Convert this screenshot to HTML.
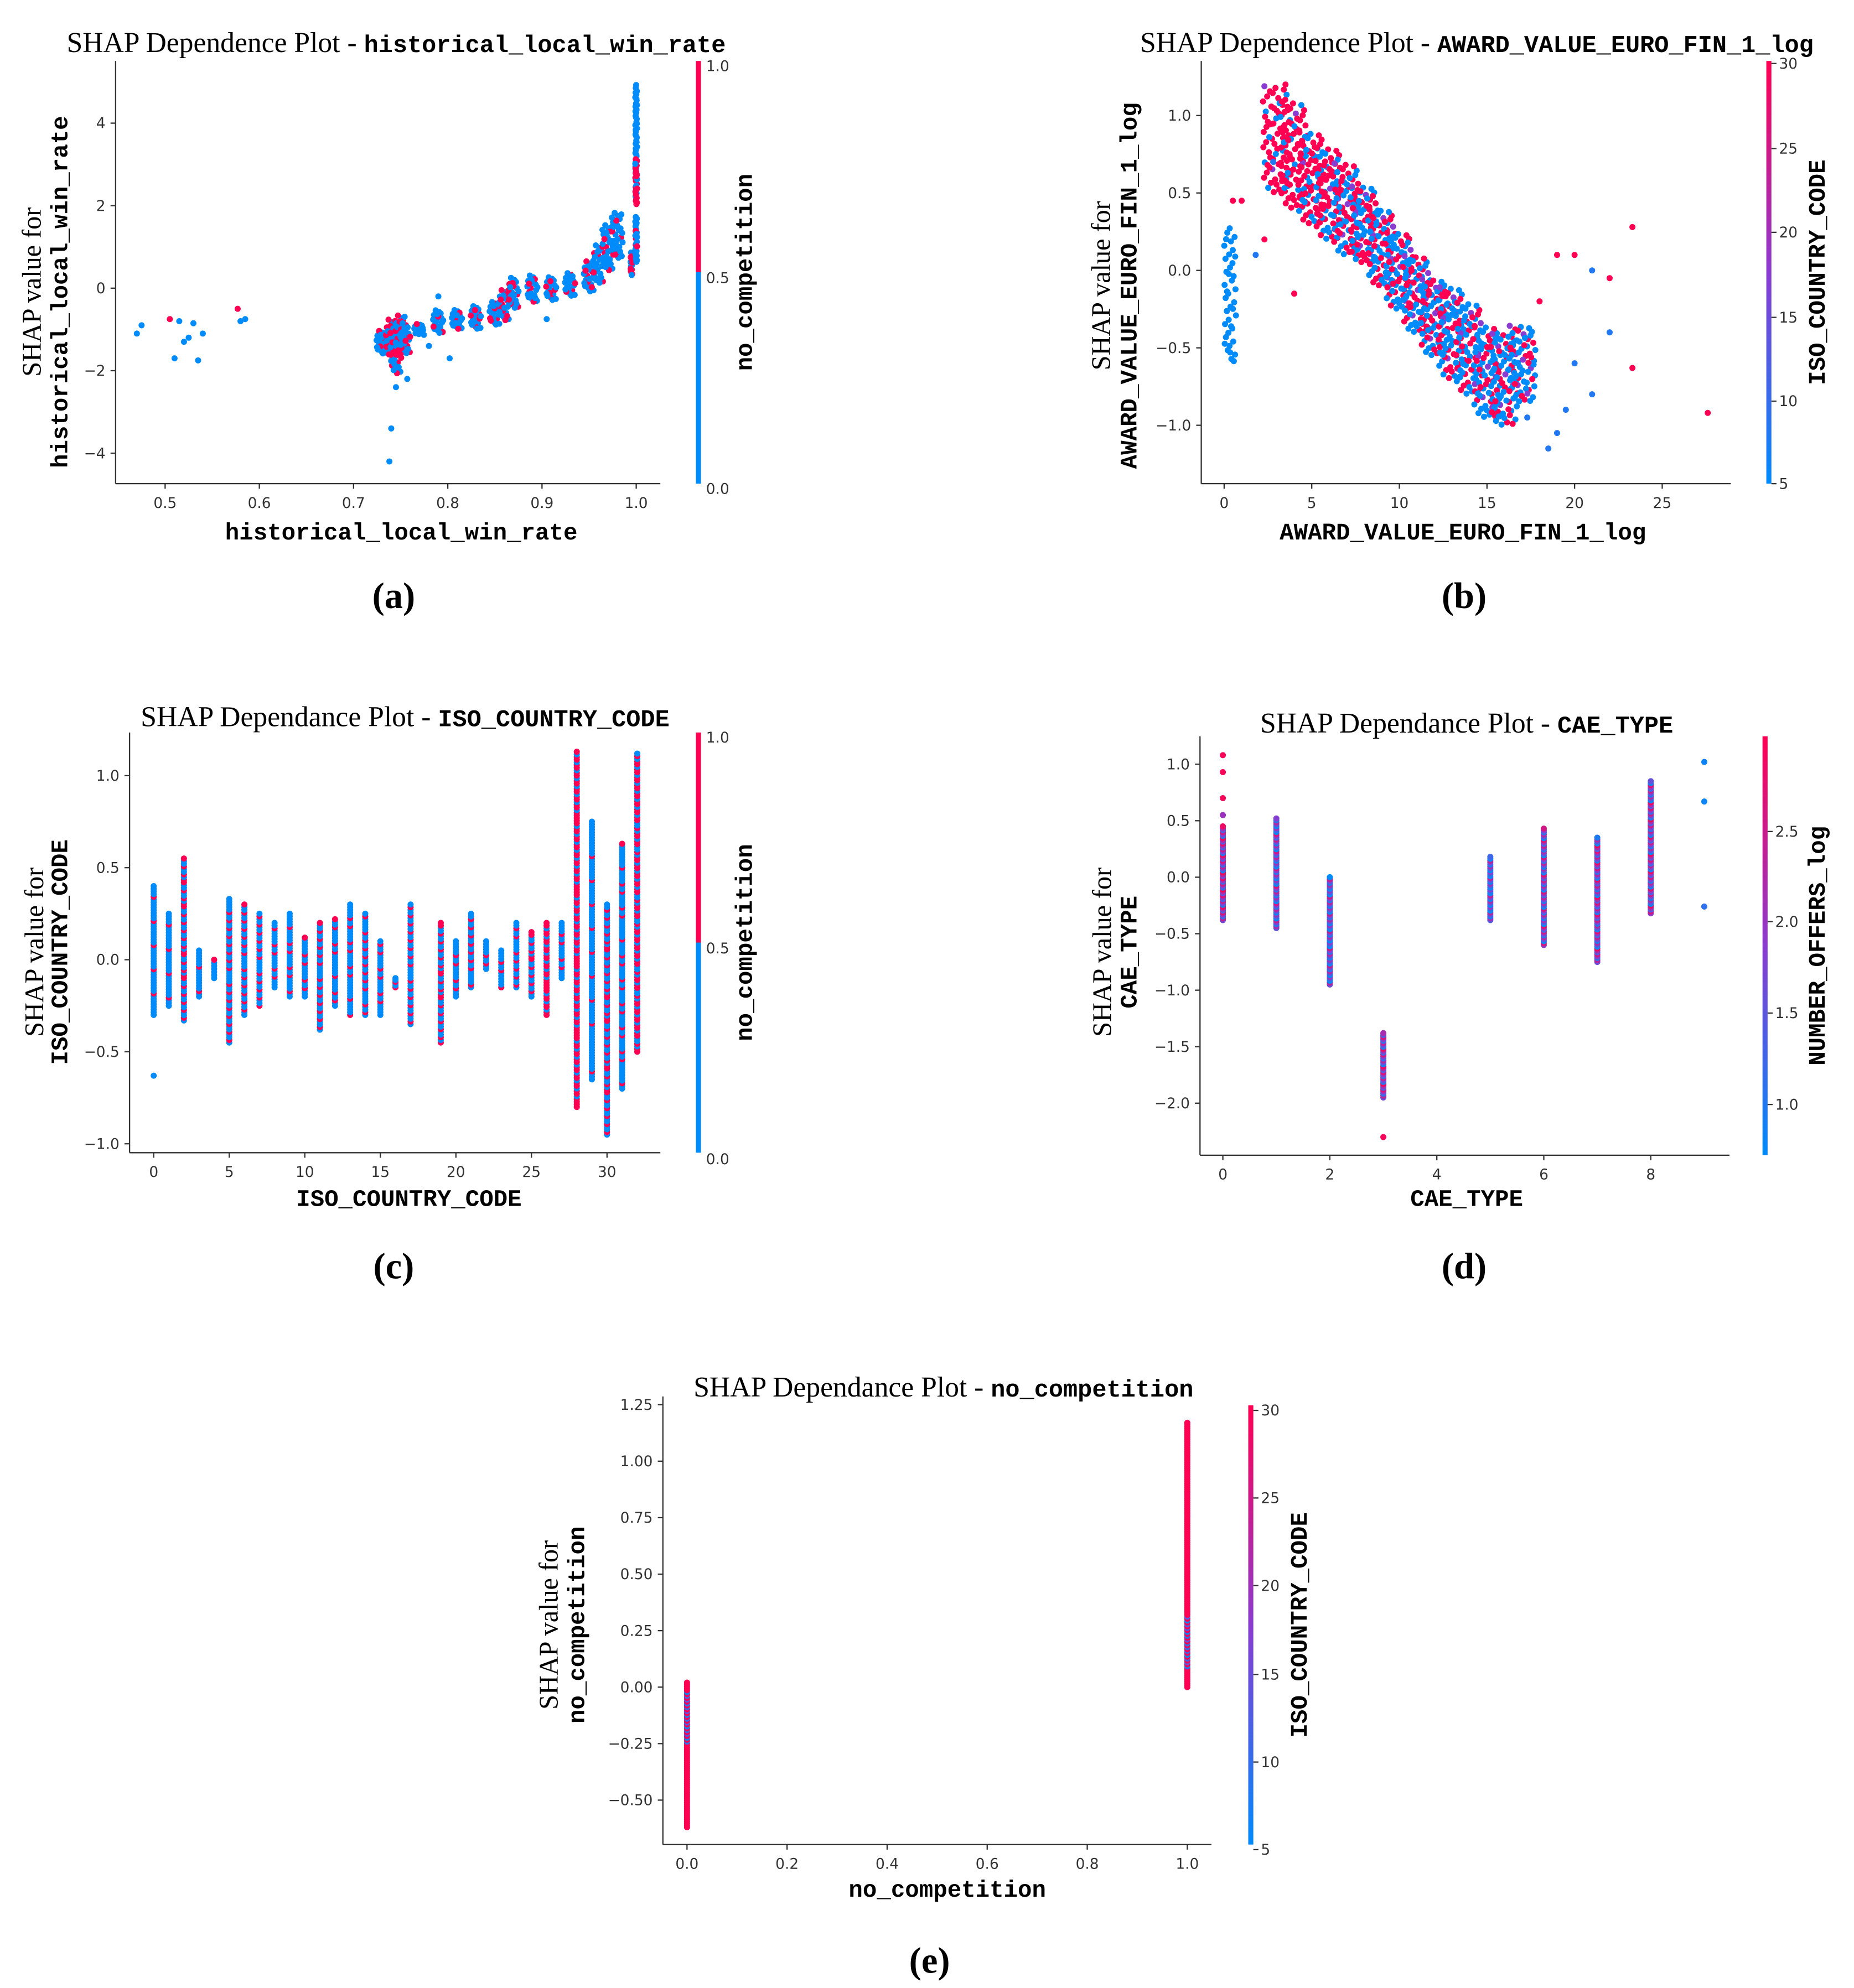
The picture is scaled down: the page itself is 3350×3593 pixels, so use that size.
<!DOCTYPE html>
<html><head><meta charset="utf-8">
<style>
html,body{margin:0;padding:0;background:#fff;}
svg{display:block;}
.tk{font-family:"DejaVu Sans",sans-serif;font-size:11.5px;fill:#333;}
.ttl{font-family:"Liberation Serif",serif;font-size:22.5px;fill:#000;}
.mono{font-family:"Liberation Mono",monospace;font-weight:bold;}
.axl{font-family:"Liberation Mono",monospace;font-weight:bold;font-size:18.5px;fill:#000;}
.ser{font-family:"Liberation Serif",serif;font-size:21px;fill:#000;}
.cap{font-family:"Liberation Serif",serif;font-size:29px;font-weight:bold;fill:#000;}
</style></head>
<body>
<svg id="fig" width="3350" height="3593" viewBox="0 0 1460 1566" xmlns="http://www.w3.org/2000/svg">
<defs>
<linearGradient id="cmapG" x1="0" y1="1" x2="0" y2="0">
<stop offset="0" stop-color="#008bfb"/><stop offset="0.5" stop-color="#8a3cd0"/><stop offset="1" stop-color="#ff0052"/>
</linearGradient>
<linearGradient id="binG" x1="0" y1="1" x2="0" y2="0">
<stop offset="0.5" stop-color="#008bfb"/><stop offset="0.5" stop-color="#ff0052"/>
</linearGradient>
</defs>
</svg>
<script>
// ===== Data =====
// (a) historical_local_win_rate
const aSingleX=[0.47,0.475,0.505,0.51,0.515,0.52,0.525,0.53,0.535,0.54,0.577,0.58,0.585,0.74,0.738,0.745,0.757,0.79,0.78,0.802,0.905];
const aSingleY=[-1.1,-0.9,-0.75,-1.7,-0.8,-1.3,-1.2,-0.85,-1.75,-1.1,-0.5,-0.8,-0.75,-3.4,-4.2,-2.4,-2.2,-0.2,-1.4,-1.7,-0.75];
const aSingleC=[0,0,1,0,0,0,0,0,0,0,1,0,0,0,0,0,0,0,0,0,0];
const aBandX=[0.73,0.74,0.745,0.75,0.755,0.77,0.79,0.81,0.83,0.85,0.86,0.87,0.89,0.91,0.93,0.95,0.96,0.97,0.98,0.995,1.0,1.0,1.0];
const aBandY=[-1.3,-1.2,-1.5,-1.1,-1.2,-1.0,-0.8,-0.75,-0.7,-0.6,-0.4,-0.1,0.0,0.0,0.1,0.3,0.6,1.0,1.3,0.6,3.8,2.6,1.2];
const aBandS=[0.3,0.5,0.6,0.5,0.4,0.15,0.3,0.25,0.3,0.3,0.4,0.4,0.35,0.3,0.3,0.4,0.5,0.6,0.6,0.3,1.2,0.6,0.6];
const aBandR=[0.2,0.6,0.4,0.5,0.3,0.1,0.1,0.2,0.3,0.3,0.4,0.4,0.2,0.25,0.2,0.3,0.2,0.2,0.2,0.5,0,0.8,0.1];
// (b) AWARD_VALUE_EURO_FIN_1_log
const bBandX=[0.35,3,4,5,6,7,8,9,10,11,12,13,14,15,16,17];
const bBandY=[-0.15,0.85,0.75,0.6,0.5,0.4,0.3,0.15,0.0,-0.15,-0.3,-0.4,-0.5,-0.65,-0.7,-0.6];
const bBandS=[0.45,0.35,0.35,0.3,0.3,0.3,0.25,0.25,0.25,0.25,0.25,0.3,0.3,0.3,0.3,0.25];
const bBandR=[0,0.8,0.8,0.7,0.6,0.5,0.5,0.4,0.4,0.4,0.4,0.4,0.35,0.3,0.3,0.3];
const bSingleX=[18,19,20,21,22,23.3,23.3,27.6,20,19.5,21,22,18.5,2.3,1.8,1,0.5,2.8,3.5,4,19,17.3];
const bSingleY=[-0.2,0.1,0.1,0.0,-0.05,0.28,-0.63,-0.92,-0.6,-0.9,-0.8,-0.4,-1.15,0.2,0.1,0.45,0.45,0.7,1.2,-0.15,-1.05,-0.95];
const bSingleC=[30,30,30,8,30,30,30,30,8,8,8,8,8,30,8,30,30,8,30,30,8,8];
// (c) ISO_COUNTRY_CODE
const cCats=[0,1,2,3,4,5,6,7,8,9,10,11,12,13,14,15,16,17,19,20,21,22,23,24,25,26,27,28,29,30,31,32];
const cMin=[-0.3,-0.25,-0.33,-0.2,-0.1,-0.45,-0.3,-0.25,-0.15,-0.2,-0.2,-0.38,-0.25,-0.3,-0.3,-0.3,-0.15,-0.35,-0.45,-0.2,-0.15,-0.05,-0.15,-0.15,-0.2,-0.3,-0.1,-0.8,-0.65,-0.95,-0.7,-0.5];
const cMax=[0.4,0.25,0.55,0.05,0.0,0.33,0.3,0.25,0.2,0.25,0.12,0.2,0.22,0.3,0.25,0.1,-0.1,0.3,0.2,0.1,0.25,0.1,0.05,0.2,0.15,0.2,0.2,1.13,0.75,0.3,0.63,1.12];
const cRed=[0.1,0.1,0.4,0.1,0.1,0.3,0.3,0.3,0.2,0.2,0.2,0.3,0.2,0.2,0.3,0.2,0.2,0.3,0.4,0.2,0.3,0.2,0.2,0.3,0.4,0.7,0.2,0.7,0.1,0.4,0.2,0.6];
// (d) CAE_TYPE
const dCats=[0,1,2,3,5,6,7,8,9];
const dMin=[-0.38,-0.45,-0.95,-1.95,-0.38,-0.6,-0.75,-0.32,-0.26];
const dMax=[0.45,0.52,0.0,-1.38,0.18,0.43,0.35,0.85,-0.26];
const dColor=[2.0,1.6,1.5,1.9,1.4,1.7,1.8,1.8,0.8];
const dExtraX=[0,0,0,0,3,9,9];
const dExtraY=[1.08,0.93,0.7,0.55,-2.3,0.67,1.02];
const dExtraC=[2.9,2.9,2.9,2.0,2.9,0.8,0.8];
// (e) no_competition
const eCats=[0,1];
const eMin=[-0.62,0.0];
const eMax=[0.02,1.17];
const eBlueLo=[-0.25,0.08];
const eBlueHi=[-0.02,0.32];

// ===== Drawing =====
const NS="http://www.w3.org/2000/svg";
const svg=document.getElementById('fig');
function mk(tag,attrs,parent){const e=document.createElementNS(NS,tag);for(const k in attrs)e.setAttribute(k,attrs[k]);(parent||svg).appendChild(e);return e;}
function lin(v0,p0,v1,p1){return v=>p0+(v-v0)*(p1-p0)/(v1-v0);}
function mixC(t){t=Math.max(0,Math.min(1,t));const A=[0,139,251],M=[138,60,208],B=[255,0,82];let r;if(t<0.5){const u=t/0.5;r=A.map((a,i)=>a+(M[i]-a)*u);}else{const u=(t-0.5)/0.5;r=M.map((a,i)=>a+(B[i]-a)*u);}return 'rgb('+r.map(Math.round).join(',')+')';}
const BLUE='#008bfb',RED='#ff0052';
function frac(x){return x-Math.floor(x);}
function halton(i,b){let f=1,r=0;i=i+1;while(i>0){f/=b;r+=f*(i%b);i=Math.floor(i/b);}return r;}

function text(g,x,y,s,cls,extra){const t=mk('text',Object.assign({x:x,y:y,class:cls},extra||{}),g);t.textContent=s;return t;}

function axes(g,P){
  const l=mk('line',{x1:P.L,y1:P.T,x2:P.L,y2:P.B,stroke:'#333','stroke-width':1},g);
  
  
  const b=mk('line',{x1:P.L,y1:P.B,x2:P.R,y2:P.B,stroke:'#333','stroke-width':1},g);
  
  
  P.xt.forEach(v=>{const x=P.sx(v);mk('line',{x1:x,y1:P.B,x2:x,y2:P.B+4,stroke:'#333'},g);
    const t=text(g,x,P.B+19,P.xf(v),'tk',{'text-anchor':'middle'});
    
    });
  P.yt.forEach(v=>{const y=P.sy(v);mk('line',{x1:P.L-4,y1:y,x2:P.L,y2:y,stroke:'#333'},g);
    const t=text(g,P.L-8,y+4,P.yf(v),'tk',{'text-anchor':'end'});
    
    });
}
function dot(g,x,y,c){const d=mk('circle',{cx:x.toFixed(2),cy:y.toFixed(2),r:2.4,fill:c},g);
  
  return d;}
function cbar(g,x,top,bot,fill,ticks,lab,labX){
  const r=mk('rect',{x:x,y:top,width:4,height:bot-top,fill:fill},g);
  
  
  ticks.forEach(tk=>{if(tk[2])mk('line',{x1:x+4,y1:tk[1],x2:x+8,y2:tk[1],stroke:'#333'},g);
    const t=text(g,x+(tk[2]?10:8),tk[1]+4,tk[0],'tk');
    
    });
  const cy=(top+bot)/2;
  const t=text(g,labX,cy,lab,'axl',{'text-anchor':'middle',transform:'rotate(-90 '+labX+' '+cy+')'});
  
  
}
function titles(g,tx,ty,pre,feat,xlx,xly,ylx1,ylx2,yly,cap,capx,capy){
  const t=mk('text',{x:tx,y:ty,class:'ttl','text-anchor':'middle'},g);
  
  
  const s1=mk('tspan',{},t);s1.textContent=pre;
  const s2=mk('tspan',{class:'mono','font-size':'19'},t);s2.textContent=feat;
  const xl=text(g,xlx,xly,feat,'axl',{'text-anchor':'middle'});
  
  
  const y1=text(g,ylx1,yly,'SHAP value for','ser',{'text-anchor':'middle',transform:'rotate(-90 '+ylx1+' '+yly+')'});
  
  
  const y2=text(g,ylx2,yly,feat,'axl',{'text-anchor':'middle',transform:'rotate(-90 '+ylx2+' '+yly+')'});
  
  
  const c=text(g,capx,capy,cap,'cap',{'text-anchor':'middle'});
  
  
}
function panel(name){const g=mk('g',{});return g;}

// ---- Panel a ----
(function(){
  const g=panel('panel-a');
  const P={L:91,R:520,T:48,B:381,sx:lin(0.5,130,1.0,501),sy:lin(0,227,4,97),
    xt:[0.5,0.6,0.7,0.8,0.9,1.0],yt:[-4,-2,0,2,4],xf:v=>v.toFixed(1),yf:v=>v<0?'\u2212'+(-v):''+v};
  axes(g,P);
  for(let k=0;k<aBandX.length;k++){
    const n=Math.round(10+aBandS[k]*30);
    for(let i=0;i<n;i++){const y=aBandY[k]-aBandS[k]+2*aBandS[k]*halton(i,2);
      const x=aBandX[k]+(aBandX[k]>=0.995?0.002:0.012)*(halton(i,3)-0.5);
      dot(g,P.sx(x),P.sy(y),halton(i+k*7,5)<aBandR[k]?RED:BLUE);}
  }
  for(let i=0;i<aSingleX.length;i++)dot(g,P.sx(aSingleX[i]),P.sy(aSingleY[i]),aSingleC[i]?RED:BLUE);
  cbar(g,548,48,381,'url(#binG)',[['1.0',52,0],['0.5',219,0],['0.0',385,0]],'no_competition',592);
  titles(g,312,41,'SHAP Dependence Plot - ','historical_local_win_rate',316,425,32,53,230,'(a)',310,479);
})();

// ---- Panel b ----
(function(){
  const g=panel('panel-b');
  const P={L:946,R:1363,T:48,B:381,sx:lin(0,964,25,1309),sy:lin(0,213,1,91),
    xt:[0,5,10,15,20,25],yt:[-1,-0.5,0,0.5,1],xf:v=>''+v,yf:v=>(v<0?'\u2212':'')+Math.abs(v).toFixed(1)};
  axes(g,P);
  for(let k=0;k<bBandX.length;k++){
    const n=k===0?40:Math.round(55+bBandS[k]*40);
    const w=k===0?0.7:1.6;
    for(let i=0;i<n;i++){
      const y=bBandY[k]+bBandS[k]*(2*halton(i,2)-1);
      const x=bBandX[k]+w*(halton(i,3)-0.5);
      const red=k>0&&halton(i+k*11,5)<bBandR[k];
      dot(g,P.sx(Math.max(0,x)),P.sy(y),red?RED:(k>0&&halton(i,7)<0.12?mixC(0.5):BLUE));}
  }
  for(let i=0;i<bSingleX.length;i++)dot(g,P.sx(bSingleX[i]),P.sy(bSingleY[i]),mixC((bSingleC[i]-5)/25));
  cbar(g,1391,48,381,'url(#cmapG)',[['30',50,1],['25',117,1],['20',183,1],['15',250,1],['10',316,1],['5',381,1]],'ISO_COUNTRY_CODE',1437);
  titles(g,1163,41,'SHAP Dependence Plot - ','AWARD_VALUE_EURO_FIN_1_log',1152,425,874,895,225,'(b)',1153,479);
})();

// ---- Panel c ----
(function(){
  const g=panel('panel-c');
  const P={L:102,R:520,T:577,B:908,sx:lin(0,121,30,478),sy:lin(0,756,1,611),
    xt:[0,5,10,15,20,25,30],yt:[-1,-0.5,0,0.5,1],xf:v=>''+v,yf:v=>(v<0?'\u2212':'')+Math.abs(v).toFixed(1)};
  axes(g,P);
  for(let k=0;k<cCats.length;k++){
    const n=Math.max(6,Math.round((cMax[k]-cMin[k])*70));
    for(let i=0;i<n;i++){const y=cMin[k]+(cMax[k]-cMin[k])*i/(n-1);
      dot(g,P.sx(cCats[k]),P.sy(y),halton(i+k*5,3)<cRed[k]?RED:BLUE);}
  }
  dot(g,P.sx(0),P.sy(-0.63),BLUE);
  cbar(g,548,577,908,'url(#binG)',[['1.0',581,0],['0.5',747,0],['0.0',913,0]],'no_competition',592);
  titles(g,319,572,'SHAP Dependance Plot - ','ISO_COUNTRY_CODE',322,950,34,53,750,'(c)',310,1007);
})();

// ---- Panel d ----
(function(){
  const g=panel('panel-d');
  const P={L:945,R:1362,T:580,B:910,sx:lin(0,963,8,1300),sy:lin(0,691,1,602),
    xt:[0,2,4,6,8],yt:[-2,-1.5,-1,-0.5,0,0.5,1],xf:v=>''+v,yf:v=>(v<0?'\u2212':'')+Math.abs(v).toFixed(1)};
  axes(g,P);
  for(let k=0;k<dCats.length;k++){
    const n=Math.max(1,Math.round((dMax[k]-dMin[k])*60));
    for(let i=0;i<n;i++){const y=n===1?dMin[k]:dMin[k]+(dMax[k]-dMin[k])*i/(n-1);
      const v=dColor[k]+1.1*(halton(i+k*3,3)-0.5)*2;
      dot(g,P.sx(dCats[k]),P.sy(y),mixC((v-0.7)/2.27));}
  }
  for(let i=0;i<dExtraX.length;i++)dot(g,P.sx(dExtraX[i]),P.sy(dExtraY[i]),mixC((dExtraC[i]-0.7)/2.27));
  cbar(g,1388,580,910,'url(#cmapG)',[['2.5',655,1],['2.0',726,1],['1.5',798,1],['1.0',870,1]],'NUMBER_OFFERS_log',1437);
  titles(g,1155,577,'SHAP Dependance Plot - ','CAE_TYPE',1155,950,875,895,750,'(d)',1153,1007);
})();

// ---- Panel e ----
(function(){
  const g=panel('panel-e');
  const P={L:522,R:954,T:1100,B:1453,sx:lin(0,541,1,935),sy:lin(0,1329,1,1151),
    xt:[0,0.2,0.4,0.6,0.8,1.0],yt:[-0.5,-0.25,0,0.25,0.5,0.75,1,1.25],xf:v=>v.toFixed(1),yf:v=>(v<0?'\u2212':'')+Math.abs(v).toFixed(2)};
  axes(g,P);
  for(let k=0;k<eCats.length;k++){
    const n=Math.round((eMax[k]-eMin[k])*120);
    for(let i=0;i<n;i++){const y=eMin[k]+(eMax[k]-eMin[k])*i/(n-1);
      const inBlue=y>=eBlueLo[k]&&y<=eBlueHi[k]&&halton(i,2)<0.5;
      dot(g,P.sx(eCats[k]),P.sy(y),inBlue?mixC(halton(i,3)*0.4):RED);}
  }
  cbar(g,983,1107,1453,'url(#cmapG)',[['30',1111,1],['25',1180,1],['20',1249,1],['15',1319,1],['10',1388,1],['5',1457,1]],'ISO_COUNTRY_CODE',1029);
  titles(g,743,1100,'SHAP Dependance Plot - ','no_competition',746,1494,439,460,1280,'(e)',732,1554);
})();
</script>
</body></html>
